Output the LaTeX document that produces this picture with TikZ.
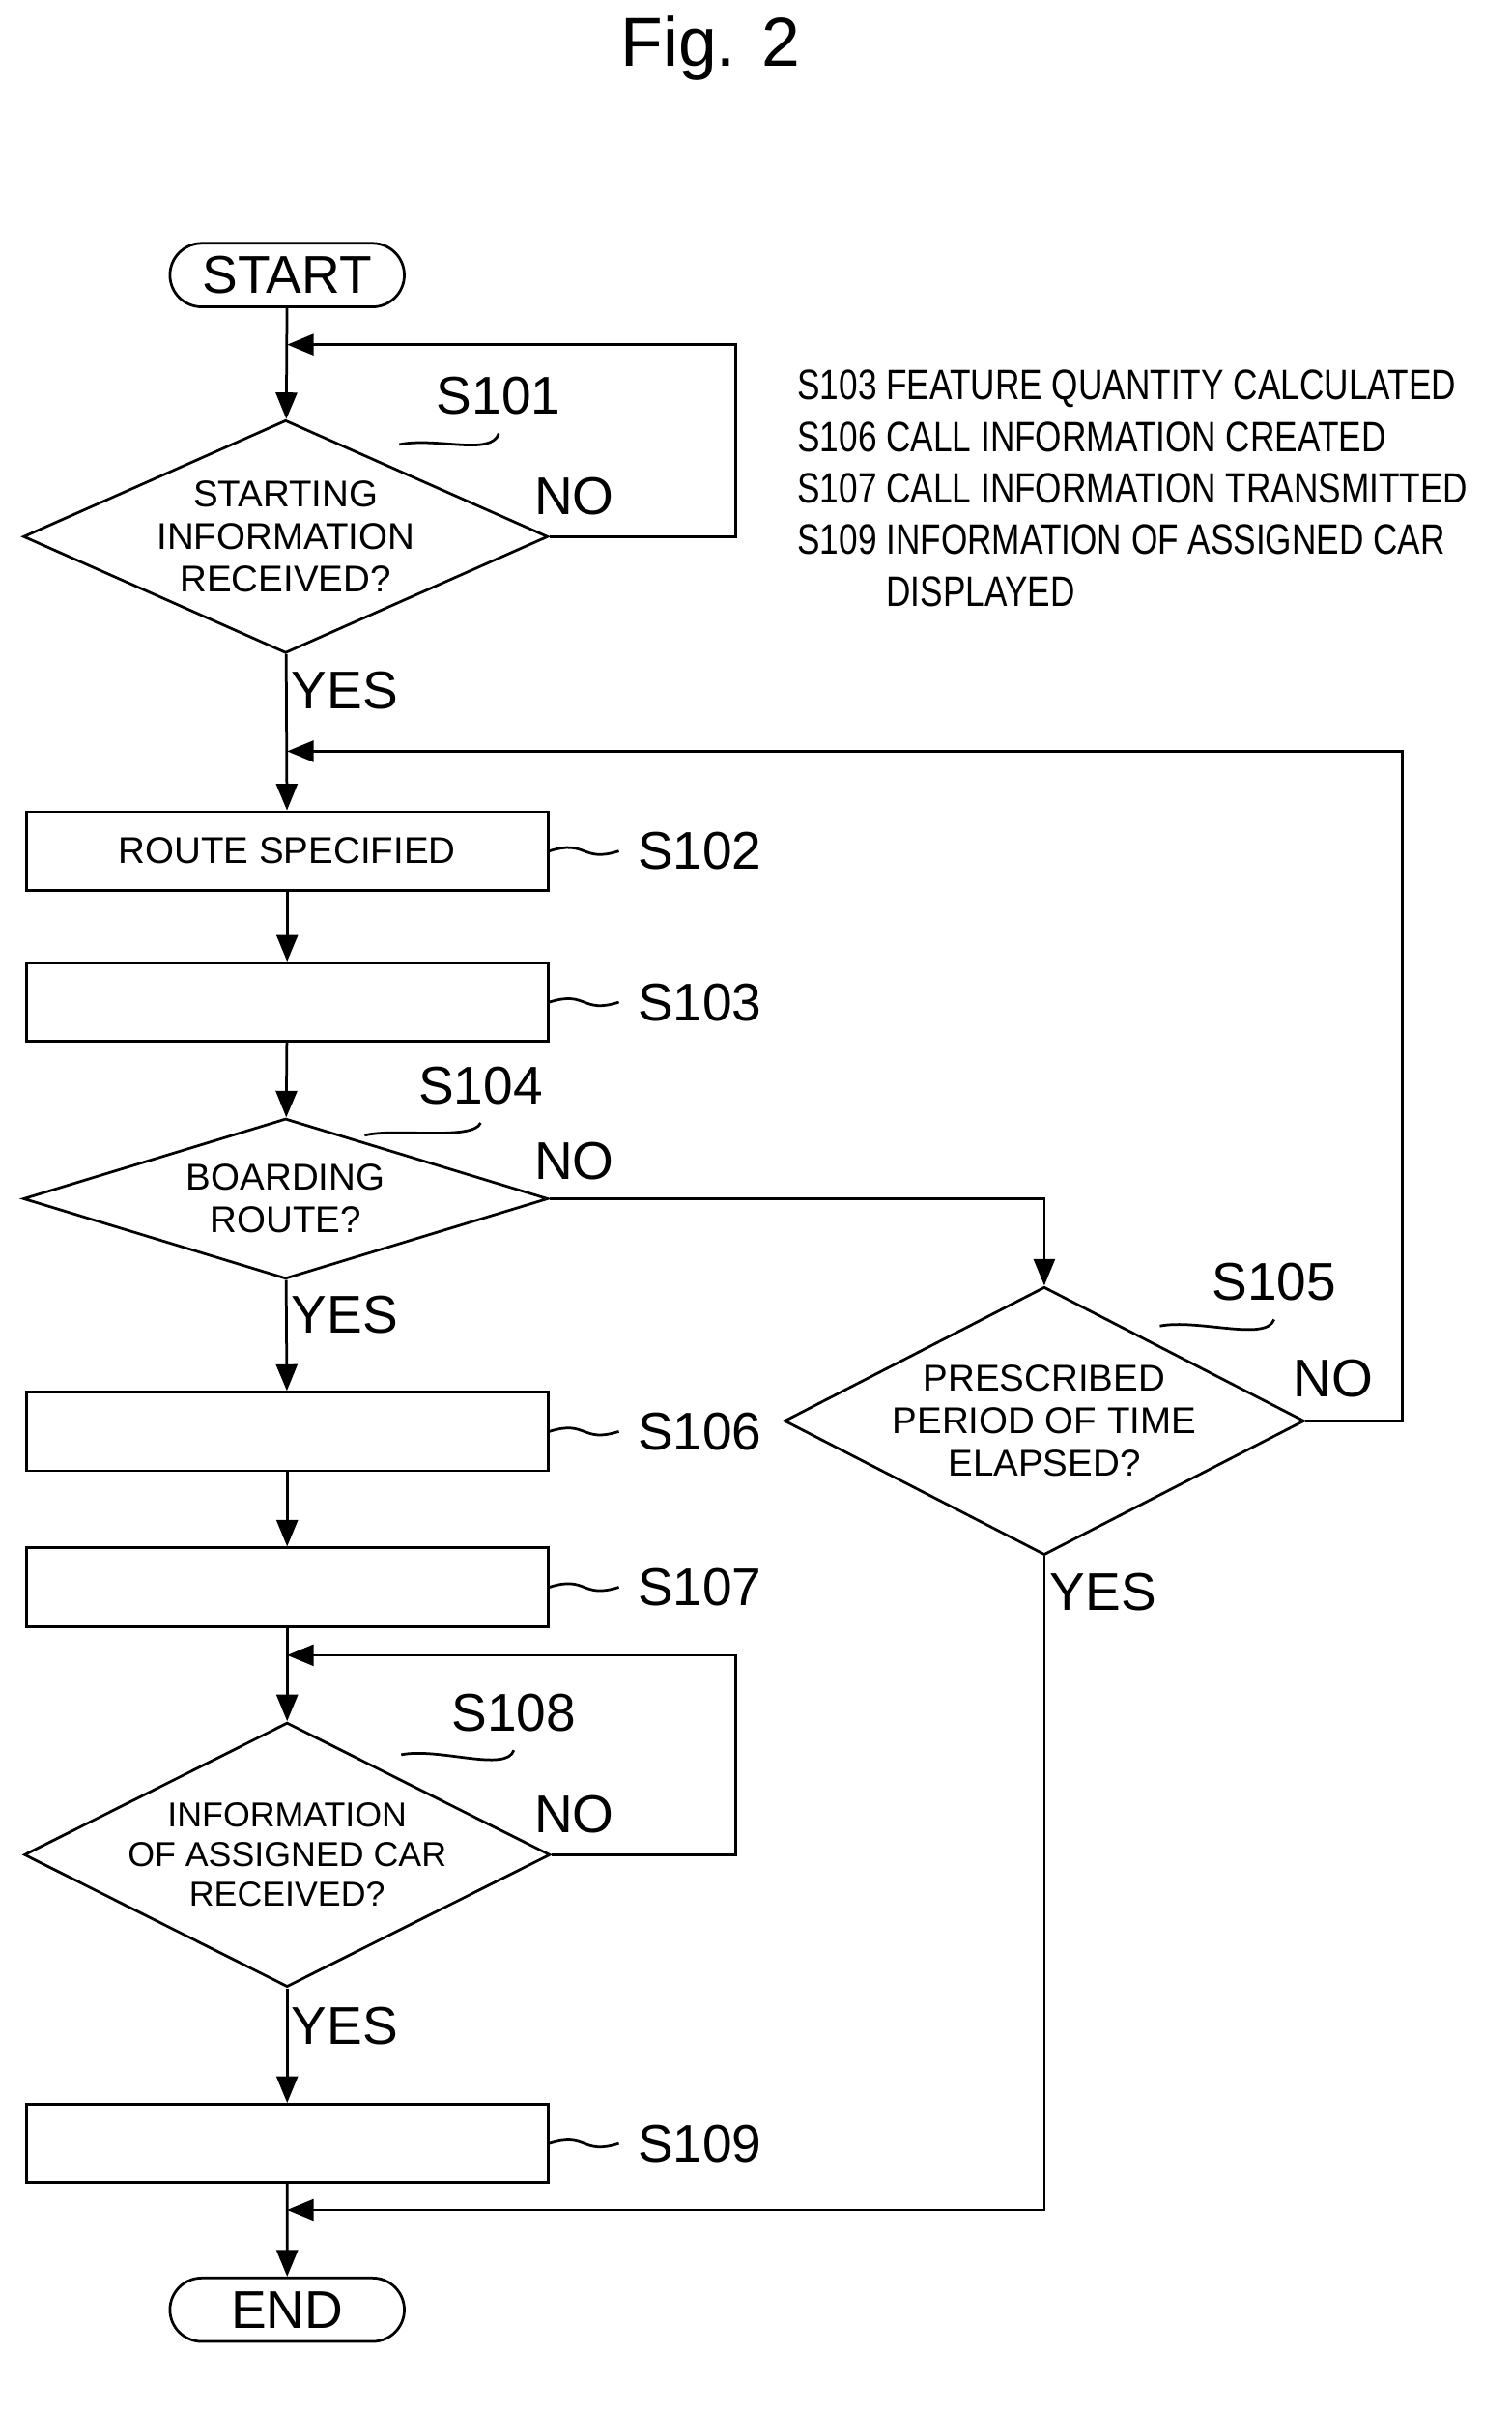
\documentclass[tikz,border=0pt]{standalone}
\usepackage{fontspec}
\usepackage{graphicx}
\setmainfont{Liberation Sans}
\usetikzlibrary{shapes.geometric,shapes.misc,arrows.meta,positioning}
\tikzset{
  flow/.style={draw, line width=0.5pt, font=\fontsize{7}{8}\selectfont, align=center},
  proc/.style={flow, rectangle, minimum width=3.45cm, minimum height=0.52cm, inner sep=0pt},
  term/.style={flow, rounded rectangle, minimum width=1.55cm, minimum height=0.42cm, inner sep=0pt, font=\fontsize{10}{11}\selectfont},
  dec/.style={flow, diamond, inner sep=0pt, minimum width=3.47cm, minimum height=#1},
  steplabel/.style={font=\fontsize{10}{11}\selectfont},
  ans/.style={font=\fontsize{10}{11}\selectfont},
  tag/.style={line width=0.5pt},
  link/.style={line width=0.5pt, -{Triangle[length=5pt,width=4pt]}}
}
\begin{document}
\begin{tikzpicture}[x=0.01cm,y=-0.01cm]
\useasboundingbox (0,0) rectangle (1000,1595);

\node[font=\fontsize{13}{14}\selectfont] (title) at (470,32) {Fig. 2};

% legend
\node[anchor=north west, inner sep=0pt] (legend) at (527,240)
  {\scalebox{0.8}[1]{\fontsize{8}{9.7}\selectfont
   \begin{tabular}{@{}l@{ }l@{}}
   S103 & FEATURE QUANTITY CALCULATED\\
   S106 & CALL INFORMATION CREATED\\
   S107 & CALL INFORMATION TRANSMITTED\\
   S109 & INFORMATION OF ASSIGNED CAR\\
        & DISPLAYED
   \end{tabular}}};

% nodes
\node[term] (start) at (190,182) {START};
\node[dec=1.54cm, aspect=2.25] (s101) at (189,355) {STARTING\\INFORMATION\\RECEIVED?};
\node[proc] (s102) at (190,563) {ROUTE SPECIFIED};
\node[proc] (s103) at (190,663) {};
\node[dec=1.06cm, aspect=3.27] (s104) at (189,793) {BOARDING\\ROUTE?};
\node[dec=1.76cm, aspect=1.94, minimum width=3.42cm] (s105) at (691,940) {PRESCRIBED\\PERIOD OF TIME\\ELAPSED?};
\node[proc] (s106) at (190,947) {};
\node[proc] (s107) at (190,1050) {};
\node[dec=1.73cm, aspect=1.99, minimum width=3.44cm, font=\fontsize{6.5}{7.5}\selectfont] (s108) at (190,1227) {INFORMATION\\OF ASSIGNED CAR\\RECEIVED?};
\node[proc] (s109) at (190,1418) {};
\node[term] (end) at (190,1528) {END};

% step labels
\node[steplabel] (l101) at (330,262) {S101};
\node[steplabel] (l102) at (463,563) {S102};
\node[steplabel] (l103) at (463,663) {S103};
\node[steplabel] (l104) at (318,718) {S104};
\node[steplabel] (l105) at (843,848) {S105};
\node[steplabel] (l106) at (463,947) {S106};
\node[steplabel] (l107) at (463,1050) {S107};
\node[steplabel] (l108) at (340,1133) {S108};
\node[steplabel] (l109) at (463,1418) {S109};

\draw[tag] (s101.north east) ++(-12,-22) .. controls +(25,-5) and +(-5,15) .. (l101.south);
\draw[tag] (s104.north east) ++(-35,-15) .. controls +(20,-5) and +(-5,12) .. (l104.south);
\draw[tag] (s105.north east) ++(-10,-18) .. controls +(25,-5) and +(-5,15) .. (l105.south);
\draw[tag] (s108.north east) ++(-12,-22) .. controls +(25,-5) and +(-5,15) .. (l108.south);
\foreach \b in {102,103,106,107,109}
  \draw[tag] (s\b.east) .. controls +(25,-8) and +(-25,8) .. (l\b.west);

% answers
\node[ans] (n101) at (380,328) {NO};
\node[ans] (y101) at (228,457) {YES};
\node[ans] (n104) at (380,768) {NO};
\node[ans] (y104) at (228,870) {YES};
\node[ans] (n105) at (882,912) {NO};
\node[ans] (y105) at (730,1053) {YES};
\node[ans] (n108) at (380,1200) {NO};
\node[ans] (y108) at (228,1340) {YES};

% joins
\coordinate (j101) at (190,228);
\coordinate (j102) at (190,497);
\coordinate (j108) at (190,1095);
\coordinate (j109) at (190,1462);

% connectors
\draw[link] (start) -- (s101);
\draw[link] (s101.east) -- (487,355) |- (j101);
\draw[link] (s101) -- (s102);
\draw[link] (s102) -- (s103);
\draw[link] (s103) -- (s104);
\draw[link] (s104.east) -| (s105.north);
\draw[link] (s105.east) -- (928,940) |- (j102);
\draw[link] (s105.south) |- (j109);
\draw[link] (s104) -- (s106);
\draw[link] (s106) -- (s107);
\draw[link] (s107) -- (s108);
\draw[link] (s108.east) -- (487,1227) |- (j108);
\draw[link] (s108) -- (s109);
\draw[link] (s109) -- (end);
\end{tikzpicture}
\end{document}
